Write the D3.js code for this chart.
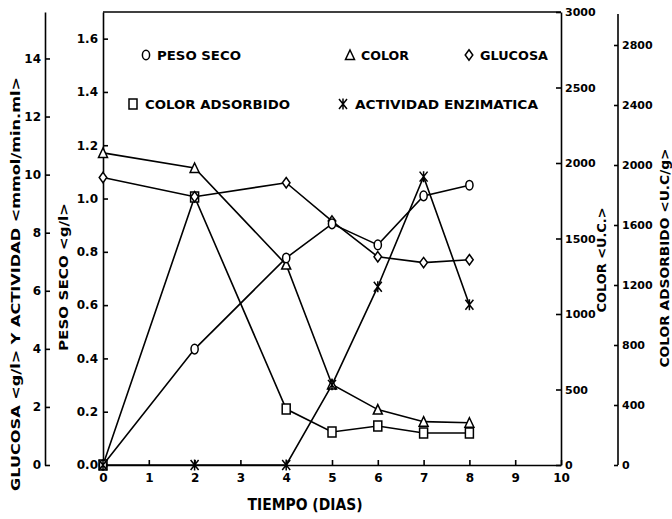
<!DOCTYPE html>
<html><head><meta charset="utf-8">
<script src="https://cdn.jsdelivr.net/npm/d3@7"></script>
<style>
body{margin:0;background:#fff}
svg{display:block}
text{font-family:"DejaVu Sans",sans-serif;font-weight:bold;fill:#000}
</style>
</head><body><svg id="c" width="672" height="519"></svg>
<script>
// ---- data ----
const days       = [0, 2, 4, 5, 6, 7, 8];
const pesoSeco   = [0, 0.435, 0.777, 0.905, 0.826, 1.01, 1.05];      // g/l (left axis)
const glucosa    = [9.9, 9.24, 9.72, 8.4, 7.17, 6.97, 7.07];          // g/l (outer left axis)
const actividad  = [0, 0, 0, 2.76, 6.14, 9.93, 5.52];                 // mmol/min.ml (outer left axis)
const color      = [2067, 1967, 1327, 533, 367, 287, 280];            // U.C. (right axis)
const colorAds   = [0, 1787, 373, 220, 260, 213, 213];                // U.C/g (outer right axis)

const xTicks     = [0,1,2,3,4,5,6,7,8,9,10];
const pesoTicks  = [0,0.2,0.4,0.6,0.8,1.0,1.2,1.4,1.6];
const glucTicks  = [0,2,4,6,8,10,12,14];
const colorTicks = [0,500,1000,1500,2000,2500,3000];
const adsTicks   = [0,400,800,1200,1600,2000,2400,2800];

const legendRow1 = [["circle","PESO SECO"],["triangle","COLOR"],["diamond","GLUCOSA"]];
const legendRow2 = [["square","COLOR ADSORBIDO"],["star","ACTIVIDAD ENZIMATICA"]];

// ---- layout ----
const svg = d3.select("#c");
const L = 103, R = 561, T = 12, B = 465;
const xGluc = 45, xAds = 618;

const x = d3.scaleLinear().domain([0,10]).range([L,R]);
const yPeso = d3.scaleLinear().domain([0,1.7]).range([B,T]);
const yGluc = d3.scaleLinear().domain([0,15.6]).range([B,T]);
const yColor = d3.scaleLinear().domain([0,3000]).range([B,T]);
const yAds = d3.scaleLinear().domain([0,3000]).range([B,15]);

function styleAxis(g, fs){
  g.selectAll("path,line").attr("stroke","#000").attr("stroke-width",1.6);
  g.selectAll("text").attr("font-size",fs).attr("font-family","'DejaVu Sans',sans-serif").attr("font-weight","bold");
}

// bottom axis
const gx = svg.append("g").attr("transform",`translate(0,${B})`)
  .call(d3.axisBottom(x).tickValues(xTicks).tickSize(-5).tickSizeOuter(0).tickPadding(8).tickFormat(d3.format("d")));
styleAxis(gx,12);
// left peso axis
const gp = svg.append("g").attr("transform",`translate(${L},0)`)
  .call(d3.axisLeft(yPeso).tickValues(pesoTicks).tickSize(-5).tickSizeOuter(0).tickPadding(5).tickFormat(d3.format(".1f")));
styleAxis(gp,12);
// outer left glucosa axis
const gg = svg.append("g").attr("transform",`translate(${xGluc},0)`)
  .call(d3.axisLeft(yGluc).tickValues(glucTicks).tickSize(-5).tickSizeOuter(0).tickPadding(4).tickFormat(d3.format("d")));
styleAxis(gg,12);
// right color axis
const gc = svg.append("g").attr("transform",`translate(${R},0)`)
  .call(d3.axisRight(yColor).tickValues(colorTicks).tickSize(-5).tickSizeOuter(0).tickPadding(4).tickFormat(d3.format("d")));
styleAxis(gc,11);
// outer right adsorbed color axis
const ga = svg.append("g").attr("transform",`translate(${xAds},0)`)
  .call(d3.axisRight(yAds).tickValues(adsTicks).tickSize(-4).tickSizeOuter(0).tickPadding(4).tickFormat(d3.format("d")));
ga.select(".domain").attr("d",`M0,14V${B}`);
styleAxis(ga,11);
// top frame
svg.append("line").attr("x1",L).attr("x2",R).attr("y1",T).attr("y2",T).attr("stroke","#000").attr("stroke-width",1.6);

// ---- markers ----
const shapes = {
  circle:"M0,-4.8A3.6,4.8 0 1,1 0,4.8A3.6,4.8 0 1,1 0,-4.8Z",
  triangle:"M0,-5L4.5,4.5L-4.5,4.5Z",
  diamond:"M0,-5.2L3.8,0L0,5.2L-3.8,0Z",
  square:"M-4,-5H4V5H-4Z",
  star:"M-4,-5L4,5M4,-5L-4,5M0,-5.5V5.5"
};
function drawMarker(g, type, cx, cy){
  g.append("path").attr("d",shapes[type]).attr("transform",`translate(${cx},${cy})`)
    .attr("fill", type==="star" ? "none" : "#fff").attr("stroke","#000").attr("stroke-width",1.5);
}

const series = [
  {vals:colorAds, y:yAds, type:"square"},
  {vals:color, y:yColor, type:"triangle"},
  {vals:glucosa, y:yGluc, type:"diamond"},
  {vals:pesoSeco, y:yPeso, type:"circle"},
  {vals:actividad, y:yGluc, type:"star"}
];
const plot = svg.append("g");
series.forEach(s=>{
  const line = d3.line().x((d,i)=>x(days[i])).y(d=>s.y(d));
  plot.append("path").datum(s.vals).attr("d",line).attr("fill","none").attr("stroke","#000").attr("stroke-width",1.6);
});
series.forEach(s=>{
  s.vals.forEach((v,i)=>drawMarker(plot, s.type, x(days[i]), s.y(v)));
});

// ---- legend ----
const lg = svg.append("g");
const row1Pos = [[146,157,84],[350,361,48],[469,480,68]];
const row2Pos = [[133,145,145],[343,355,183]];
function legendRow(items, pos, y){
  items.forEach((it,i)=>{
    drawMarker(lg, it[0], pos[i][0], y);
    lg.append("text").attr("x",pos[i][1]).attr("y",y).attr("dy","0.36em")
      .attr("font-size",13).attr("textLength",pos[i][2]).attr("lengthAdjust","spacingAndGlyphs").text(it[1]);
  });
}
legendRow(legendRow1,row1Pos,55);
legendRow(legendRow2,row2Pos,104);

// ---- axis titles ----
function vTitle(txt, cx, cy, len, fs){
  svg.append("text").attr("transform",`translate(${cx},${cy}) rotate(-90)`).attr("text-anchor","middle")
    .attr("dy","0.36em").attr("font-size",fs).attr("textLength",len).attr("lengthAdjust","spacingAndGlyphs").text(txt);
}
vTitle("GLUCOSA <g/l> Y ACTIVIDAD <mmol/min.ml>", 16, 284, 414, 12);
vTitle("PESO SECO <g/l>", 64, 277, 148, 12);
vTitle("COLOR <U.C.>", 602, 260, 105, 12);
vTitle("COLOR ADSORBIDO <U.C/g>", 665, 258, 219, 12);
svg.append("text").attr("x",305).attr("y",510).attr("text-anchor","middle").attr("font-weight","normal")
  .attr("font-size",15).attr("textLength",115).attr("lengthAdjust","spacingAndGlyphs").text("TIEMPO (DIAS)");
</script>
</body></html>
